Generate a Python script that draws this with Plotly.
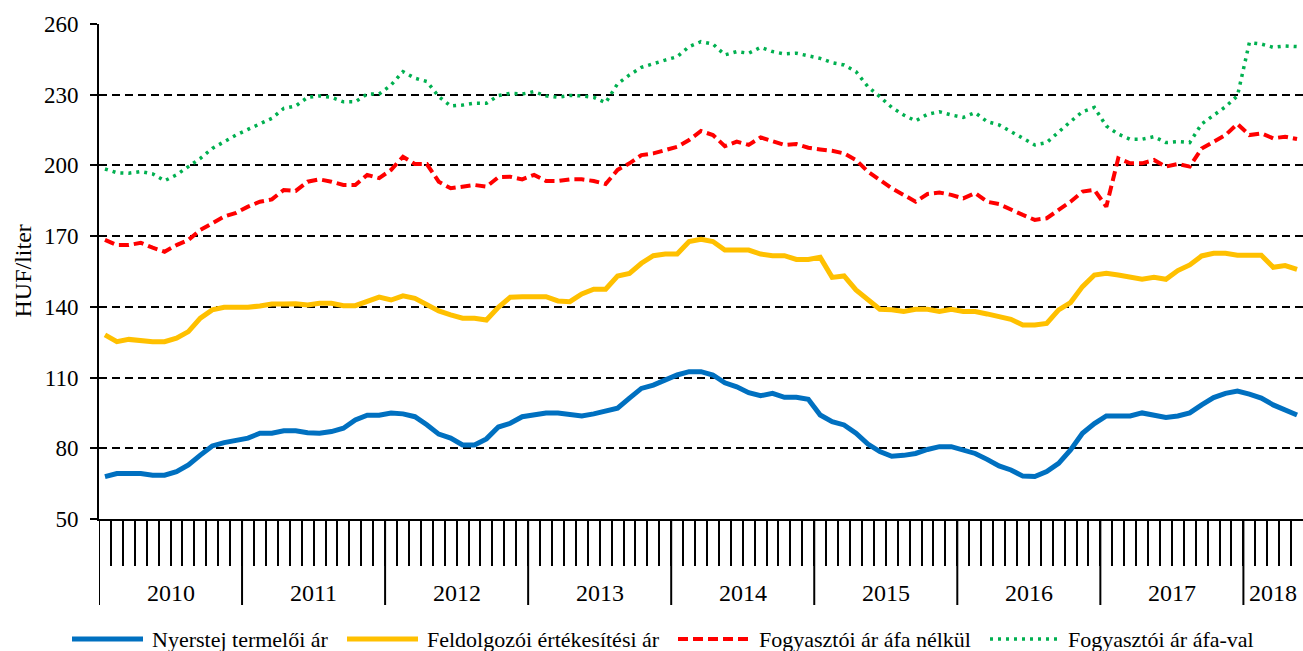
import plotly.graph_objects as go

# havi adatok, 2010. január - 2018. május (HUF/liter)
years = ['2010', '2011', '2012', '2013', '2014', '2015', '2016', '2017', '2018']
months_per_year = [12, 12, 12, 12, 12, 12, 12, 12, 5]

series_names = ['Nyerstej termelői ár', 'Feldolgozói értékesítési ár',
                'Fogyasztói ár áfa nélkül', 'Fogyasztói ár áfa-val']

nyerstej = [
    68.0, 69.3, 69.3, 69.3, 68.6, 68.6, 70.1, 72.9, 77.1, 81.0, 82.4, 83.2,
    84.3, 86.4, 86.4, 87.4, 87.4, 86.6, 86.4, 87.1, 88.5, 92.0, 94.0, 94.0,
    95.0, 94.6, 93.4, 90.0, 86.0, 84.3, 81.4, 81.4, 84.0, 89.0, 90.6, 93.4,
    94.4, 95.0, 95.0, 94.6, 93.7, 94.6, 95.6, 97.0, 101.3, 105.4, 106.8, 109.2,
    111.1, 112.5, 112.5, 111.1, 107.8, 106.1, 103.6, 102.3, 103.3, 101.6, 101.6, 100.8,
    94.1, 91.3, 89.9, 86.4, 81.8, 78.6, 76.6, 77.0, 77.8, 79.5, 80.7, 80.7,
    79.5, 77.8, 75.3, 72.5, 70.8, 68.2, 68.0, 70.1, 73.6, 79.3, 86.4, 90.5,
    93.7, 93.7, 93.7, 95.0, 94.0, 93.1, 93.7, 95.0, 98.4, 101.5, 103.3, 104.3,
    103.0, 101.3, 98.4, 96.0, 94.1,
]

feldolgozoi = [
    128.1, 125.2, 126.2, 125.5, 125.2, 125.2, 126.7, 129.5, 135.2, 138.7, 139.8, 139.8,
    139.8, 140.4, 141.2, 141.2, 141.3, 140.8, 141.5, 141.5, 140.5, 140.5, 142.5, 144.1,
    142.9, 144.7, 143.6, 140.8, 138.3, 136.6, 135.2, 135.2, 134.4, 139.8, 144.1, 144.3,
    144.3, 144.3, 142.5, 142.2, 145.5, 147.5, 147.5, 153.1, 154.2, 158.5, 161.7, 162.4,
    162.4, 167.7, 168.7, 167.7, 164.1, 164.1, 164.1, 162.4, 161.7, 161.7, 160.1, 160.1,
    161.0, 152.5, 153.1, 147.2, 142.9, 139.0, 138.8, 138.0, 139.0, 139.0, 138.0, 139.0,
    138.0, 138.0, 137.0, 136.1, 134.7, 132.3, 132.3, 133.0, 138.7, 141.8, 148.6, 153.5,
    154.2, 153.5, 152.5, 151.7, 152.5, 151.7, 155.4, 157.8, 161.6, 162.7, 162.7, 161.9,
    161.9, 161.9, 156.8, 157.5, 155.9,
]

fogy_afa_nelkul = [
    168.4, 166.2, 166.2, 167.2, 165.1, 163.4, 166.2, 168.4, 172.6, 175.4, 178.3, 179.9,
    182.5, 184.6, 185.6, 189.6, 189.2, 193.1, 194.1, 193.1, 191.7, 191.7, 196.0, 194.6,
    198.1, 203.7, 200.6, 200.6, 193.1, 190.3, 191.0, 191.7, 191.0, 195.0, 195.2, 194.1,
    196.0, 193.4, 193.4, 194.1, 194.1, 193.4, 192.1, 198.1, 200.9, 204.4, 205.1, 206.5,
    207.9, 210.8, 214.6, 212.9, 208.2, 210.1, 208.7, 211.9, 210.1, 208.7, 209.1, 207.5,
    206.8, 206.2, 205.1, 202.3, 197.4, 193.8, 190.3, 187.5, 184.6, 187.9, 188.5, 187.5,
    186.0, 188.3, 184.6, 183.6, 181.1, 179.0, 176.9, 177.6, 181.1, 184.6, 188.9, 189.6,
    182.5, 203.0, 200.9, 200.9, 202.3, 199.5, 200.6, 199.5, 207.2, 210.1, 212.9, 217.6,
    212.9, 213.6, 211.5, 212.2, 211.2,
]

fogy_afaval = [
    198.5, 196.9, 196.7, 197.4, 196.4, 193.5, 196.0, 199.5, 203.0, 207.2, 210.1, 212.9,
    215.3, 217.8, 220.0, 224.2, 225.2, 228.9, 229.5, 228.9, 227.0, 227.0, 230.3, 230.3,
    234.1, 239.8, 237.0, 235.6, 229.2, 225.2, 225.6, 226.4, 226.4, 229.6, 230.6, 230.3,
    231.3, 229.5, 228.9, 229.7, 229.5, 228.9, 226.6, 234.6, 238.4, 241.6, 243.3, 244.7,
    246.1, 250.4, 252.5, 251.5, 246.9, 248.3, 247.6, 250.1, 248.3, 247.3, 247.6, 246.4,
    245.4, 243.6, 242.6, 239.8, 233.4, 229.2, 224.6, 221.4, 218.9, 221.7, 222.8, 221.4,
    220.4, 222.4, 218.6, 217.2, 214.3, 211.5, 208.7, 209.7, 214.3, 218.6, 222.8, 224.6,
    216.7, 213.3, 211.1, 211.1, 212.2, 209.7, 210.1, 209.7, 217.6, 221.4, 224.9, 229.5,
    252.1, 251.5, 250.1, 250.7, 250.4,
]

y_ticks = [50, 80, 110, 140, 170, 200, 230, 260]

FONT = 'Liberation Serif'
colors = ['#0070C0', '#FFC000', '#FF0000', '#00B050']
widths = [5, 5, 4, 3.5]
dashes = ['solid', 'solid', '10px,5px', '3px,5px']

W, H = 1303, 651
M_L, M_R, M_T, M_B = 99, 0, 24, 132
plot_w = W - M_L - M_R
plot_h = H - M_T - M_B


def px_x(p):
    return (p - M_L) / plot_w


def px_y(p):
    return (H - M_B - p) / plot_h


n = len(nyerstej)
x = list(range(n))

fig = go.Figure()
for name, vals, c, w, d in zip(series_names,
                               [nyerstej, feldolgozoi, fogy_afa_nelkul, fogy_afaval],
                               colors, widths, dashes):
    fig.add_trace(go.Scatter(x=x, y=vals, mode='lines', name=name,
                             line=dict(color=c, width=w, dash=d),
                             showlegend=False))

# year separators and labels
starts = [0]
for m in months_per_year[:-1]:
    starts.append(starts[-1] + m)
for yr, s, m in zip(years, starts, months_per_year):
    fig.add_shape(type='line', xref='x', yref='paper', x0=s - 0.5, x1=s - 0.5,
                  y0=0, y1=px_y(605), line=dict(color='black', width=2))
    fig.add_annotation(x=s + (m - 1) / 2, y=px_y(593), xref='x', yref='paper',
                       text=yr, showarrow=False, yanchor='middle',
                       font=dict(family=FONT, size=24, color='black'))

# legend drawn below the axis
leg_y = px_y(639)
leg_pos = [(72, 143, 150), (347, 418, 425), (678, 750, 757), (990, 1057, 1066)]
for name, c, w, d, (a, b, t) in zip(series_names, colors, widths, dashes, leg_pos):
    fig.add_shape(type='line', xref='paper', yref='paper', x0=px_x(a), x1=px_x(b),
                  y0=leg_y, y1=leg_y, line=dict(color=c, width=w, dash=d))
    fig.add_annotation(x=px_x(t), y=leg_y, xref='paper', yref='paper', text=name,
                       showarrow=False, xanchor='left', yanchor='middle',
                       font=dict(family=FONT, size=22, color='black'))

fig.add_annotation(x=px_x(22), y=0.5, xref='paper', yref='paper', text='HUF/liter',
                   textangle=-90, showarrow=False, xanchor='center', yanchor='middle',
                   font=dict(family=FONT, size=24, color='black'))

fig.update_layout(
    width=W, height=H,
    margin=dict(l=M_L, r=M_R, t=M_T, b=M_B),
    plot_bgcolor='white', paper_bgcolor='white',
    font=dict(family=FONT, size=22, color='black'),
    xaxis=dict(range=[-0.5, n - 0.5], showgrid=False, zeroline=False,
               showline=True, linecolor='black', linewidth=2,
               tickmode='array', tickvals=[i - 0.5 for i in range(1, n)],
               showticklabels=False, ticks='outside', ticklen=45,
               tickwidth=2, tickcolor='black'),
    yaxis=dict(range=[50, 260], tickvals=y_ticks, showgrid=True,
               gridcolor='black', gridwidth=1.5, griddash='8px,5px',
               zeroline=False, showline=True, linecolor='black', linewidth=2,
               ticks='outside', ticklen=7, tickwidth=2, tickcolor='black',
               ticklabelstandoff=7,
               tickfont=dict(family=FONT, size=23, color='black')),
)

# the page body has a default 8px margin; remove it so the figure fills the window
fig.write_html('out.html', config={'displayModeBar': False},
               post_script="document.body.style.margin='0';")
